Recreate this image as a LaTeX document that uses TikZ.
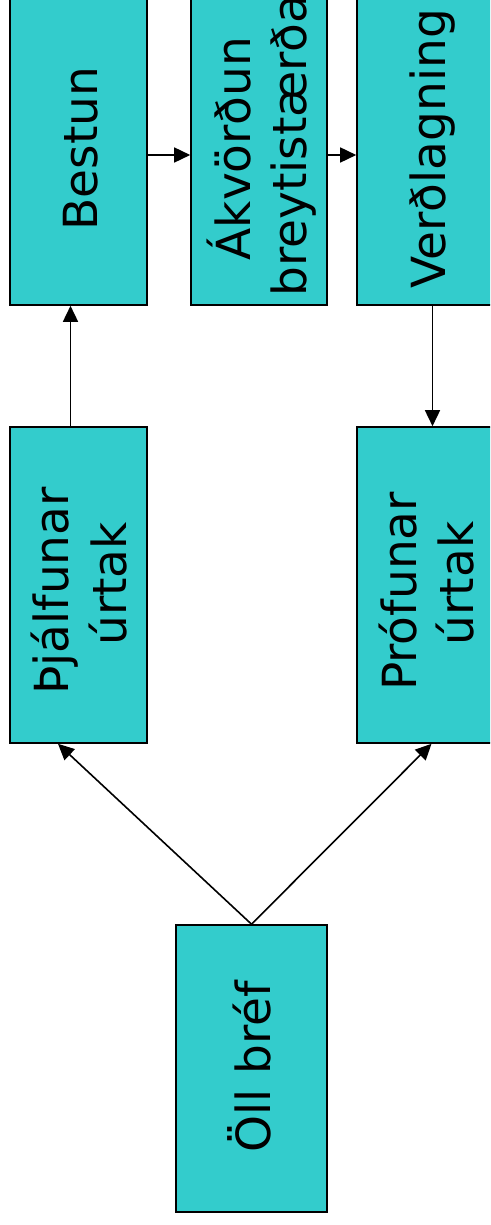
\documentclass[tikz,border=0pt]{standalone}
\usepackage{fontspec}
\setmainfont{DejaVu Sans}
\usetikzlibrary{arrows.meta}
\definecolor{turq}{RGB}{51,204,204}
\begin{document}
\begin{tikzpicture}[x=1pt,y=-1pt,
  box/.style={draw=black,line width=1.6pt,fill=turq,inner sep=0pt},
  txt/.style={rotate=90,anchor=base,inner sep=0pt,font=\fontsize{47}{56}\selectfont},
  arr/.style={line width=1.6pt,-{Triangle[length=16pt,width=15pt]}}]
\useasboundingbox (0,0) rectangle (490,1225);
\clip (0,0) rectangle (490,1225);
\fill[white] (0,0) rectangle (490,1225);
% boxes
\node[box,minimum width=137pt,minimum height=310pt] (bes) at (78.5,150) {};
\node[box,minimum width=136pt,minimum height=310pt] (akv) at (259,150) {};
\node[box,minimum width=137pt,minimum height=310pt] (ver) at (425.5,150) {};
\node[box,minimum width=137pt,minimum height=316pt] (thj) at (78.5,585) {};
\node[box,minimum width=137pt,minimum height=316pt] (pro) at (425.5,585) {};
\node[box,minimum width=151pt,minimum height=287pt] (oll) at (251.5,1068.5) {};
% texts
\node[txt] (tBes) at (97,148.5) {Bestun};
\node[txt] (tAkv1) at (250,148.5) {Ákvörðun};
\node[txt,anchor=base west] (tAkv2) at (306,297) {breytistærða};
\node[txt] (tVer) at (445,149) {Verðlagning};
\node[txt] (tThj1) at (68,591) {Þjálfunar};
\node[txt] (tThj2) at (126,584) {úrtak};
\node[txt] (tPro1) at (416,591.5) {Prófunar};
\node[txt] (tPro2) at (473,583.5) {úrtak};
\node[txt] (tOll) at (270.7,1066.5) {Öll bréf};
% connectors
\draw[arr] ([yshift=-5pt]bes.east) -- ([yshift=-5pt]akv.west);
\draw[arr] ([yshift=-5pt]akv.east) -- ([yshift=-5pt]ver.west);
\draw[arr] ([xshift=7pt]ver.south) -- ([xshift=7pt]pro.north);
\draw[arr] ([xshift=-8pt]thj.north) -- ([xshift=-8pt]bes.south);
\draw[arr] (oll.north) -- ([xshift=-20.5pt]thj.south);
\draw[arr] (oll.north) -- ([xshift=6pt]pro.south);
\end{tikzpicture}
\end{document}
